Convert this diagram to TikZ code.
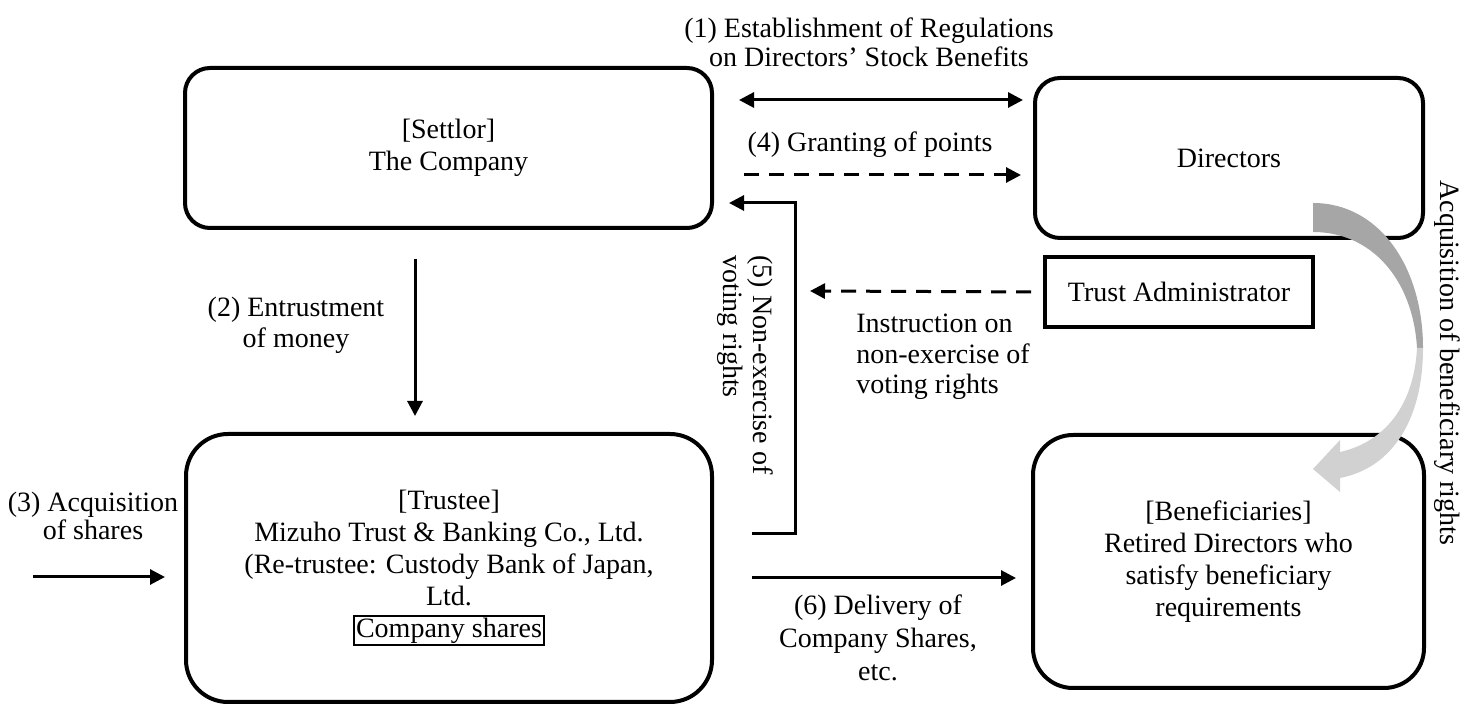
\documentclass[tikz,border=0pt]{standalone}
\usepackage{fontspec}
\setmainfont{Liberation Serif}
\usetikzlibrary{arrows.meta}

\begin{document}
\begin{tikzpicture}
  [x=0.5pt,y=-0.5pt,
   lbl/.style={font=\fontsize{14}{#1}\selectfont,align=center,inner sep=0pt},
   lbl/.default=16,
   rbox/.style={draw,line width=2pt,rounded corners=#1,lbl},
   sbox/.style={draw,line width=2pt,lbl},
   arr/.style={line width=1.5pt,-{Triangle[length=7.5pt,width=7.5pt]}},
   dash arr/.style={arr,dash pattern=on 7.5pt off 5pt}]
  \useasboundingbox (0,0) rectangle (1478,704);
  \node[rbox=12.5pt,minimum width=263.5pt,minimum height=80pt] (settlor) at (448.5,148) {[Settlor]\\The Company};
  \node[rbox=12.5pt,minimum width=194pt,minimum height=80pt] (directors) at (1229,158) {Directors};
  \node[sbox,minimum width=134pt,minimum height=35pt] (admin) at (1179,292) {Trust Administrator};
  \node[rbox=21pt,minimum width=263pt,minimum height=134pt] (trustee) at (449,568)
    {[Trustee]\\Mizuho Trust \& Banking Co., Ltd.\\(Re-trustee: Custody Bank of Japan,\\Ltd.\\
     \setlength{\fboxsep}{0.5pt}\setlength{\fboxrule}{1pt}\fbox{Company shares}};
  \node[rbox=20pt,minimum width=195.5pt,minimum height=126.5pt] (benef) at (1228.5,561.5)
    {[Beneficiaries]\\Retired Directors who\\satisfy beneficiary\\requirements};
  % labels
  \node[lbl=14.5] (l1) at (869,42) {(1) Establishment of Regulations\\on Directors’ Stock Benefits};
  \node[lbl] (l4) at (870,145) {(4) Granting of points};
  \node[lbl=15.5] (l2) at (296,325) {(2) Entrustment\\of money};
  \node[lbl=11] (l3) at (93,516) {(3) Acquisition\\of shares};
  \node[lbl=15,align=left,rotate=-90,anchor=north west] (l5) at (774,255) {(5) Non-exercise of\\voting rights};
  \node[lbl=15.25,align=left,anchor=west] (linstr) at (856,357) {Instruction on\\non-exercise of\\voting rights};
  \node[lbl=16.5] (l6) at (878,638) {(6) Delivery of\\Company Shares,\\etc.};
  \node[lbl,rotate=-90,anchor=north west] (lacq) at (1461,180) {Acquisition of beneficiary rights};
  % connectors
  \coordinate (src) at (33,577);
  \coordinate (instr) at (810,291);
  \draw[arr,{Triangle[length=7.5pt,width=7.5pt]}-{Triangle[length=7.5pt,width=7.5pt]},
        shorten <=12.5pt,shorten >=5pt] (settlor.east |- 0,100) -- (directors.west |- 0,100);
  \draw[dash arr,shorten <=15pt,shorten >=6pt] (settlor.east |- 0,175) -- (directors.west |- 0,175);
  \draw[arr,shorten <=14.5pt,shorten >=8pt] (settlor.south -| 415,0) -- (trustee.north -| 415,0);
  \draw[arr,shorten >=9.5pt] (src) -- (trustee.west |- src);
  \draw[arr,shorten <=19pt,shorten >=7.5pt] (trustee.east |- 0,534) -- (795,534) -- (795,203) -- (settlor.east |- 0,203);
  \draw[dash arr,shorten <=6pt] (admin.west) -- (instr);
  \draw[arr,shorten <=19pt,shorten >=7.5pt] (trustee.east |- 0,578) -- (benef.west |- 0,578);
  % curved grey arrow
  \fill[black!35] (1313,203) .. controls (1380,203) and (1423,268) .. (1423,348)
    -- (1417,348) .. controls (1413,280) and (1372,232) .. (1313,232) -- cycle;
  \fill[black!18] (1423,348) .. controls (1423,420) and (1392,468) .. (1340,478)
    -- (1340,492) -- (1313,469) -- (1340,440) -- (1340,452)
    .. controls (1385,442) and (1414,405) .. (1417,348) -- cycle;
\end{tikzpicture}
\end{document}
